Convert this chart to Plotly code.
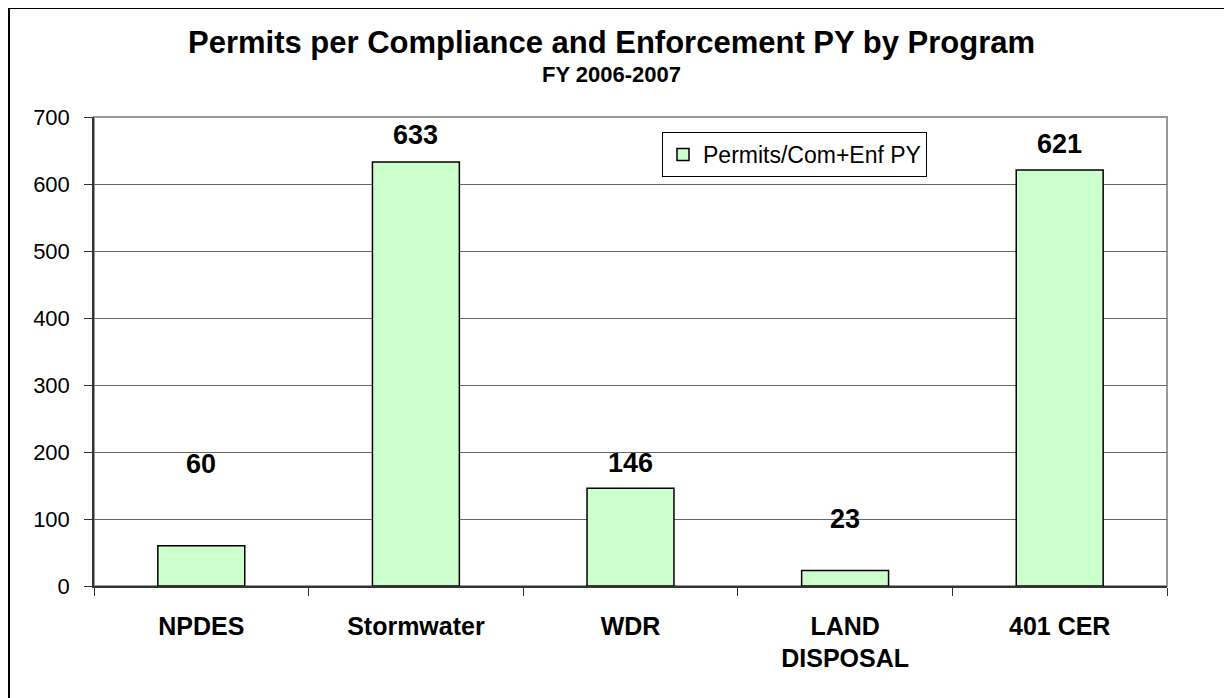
import plotly.graph_objects as go

categories = ["NPDES", "Stormwater", "WDR", "LAND<br>DISPOSAL", "401 CER"]
values = [60, 633, 146, 23, 621]
series_name = "Permits/Com+Enf PY"
y_ticks = [0, 100, 200, 300, 400, 500, 600, 700]
title_text = "Permits per Compliance and Enforcement PY by Program"
subtitle_text = "FY 2006-2007"

FONT = "Liberation Sans, Arial, sans-serif"
W, H = 1224, 690           # page body has an 8px margin
L, R, T, B = 86, 65, 109, 112
PW, PH = W - L - R, H - T - B
# pixel gap above each bar for its value label, as placed in the original
label_gaps = [65, 10, 8, 35, 9]

def px_x(x):
    return (x - L) / PW

def px_y(y):
    return (H - B - y) / PH

fig = go.Figure()
fig.add_trace(go.Bar(
    x=categories, y=values, name=series_name,
    marker=dict(color="#CCFFCC", line=dict(color="black", width=1.5)),
    width=0.405,
))

annotations = [
    dict(text="<b>%s</b>" % title_text, x=px_x(603), y=px_y(34),
         xref="paper", yref="paper", xanchor="center", yanchor="middle",
         showarrow=False, font=dict(size=31, family=FONT, color="black")),
    dict(text="<b>%s</b>" % subtitle_text, x=px_x(603), y=px_y(67),
         xref="paper", yref="paper", xanchor="center", yanchor="middle",
         showarrow=False, font=dict(size=22, family=FONT, color="black")),
]
for c, v, g in zip(categories, values, label_gaps):
    annotations.append(dict(
        text="<b>%d</b>" % v, x=c, y=v, xref="x", yref="y",
        xanchor="center", yanchor="bottom", yshift=g, showarrow=False,
        font=dict(size=27, family=FONT, color="black"),
    ))

fig.update_layout(
    width=W, height=H,
    margin=dict(l=L, r=R, t=T, b=B),
    paper_bgcolor="white", plot_bgcolor="white",
    font=dict(family=FONT, color="black"),
    showlegend=True,
    legend=dict(
        x=px_x(654), y=px_y(124), xanchor="left", yanchor="top",
        bgcolor="white", bordercolor="black", borderwidth=1,
        font=dict(size=23, family=FONT, color="black"),
        itemwidth=30,
    ),
    annotations=annotations,
)

fig.update_xaxes(
    showline=True, linecolor="#333333", linewidth=1.5,
    ticks="outside", tickson="boundaries", ticklen=8, tickcolor="#333333",
    tickfont=dict(size=25, family=FONT, color="black"),
    tickprefix="<b>", ticksuffix="</b>",
    ticklabelstandoff=17,
    showgrid=False,
)
fig.update_yaxes(
    range=[0, 700], tickvals=y_ticks,
    showline=True, linecolor="#333333", linewidth=1.5,
    ticks="outside", ticklen=8, tickcolor="#333333",
    tickfont=dict(size=22, family=FONT, color="black"),
    ticklabelstandoff=10,
    showgrid=True, gridcolor="#666666", gridwidth=1,
    zeroline=False,
)
# plot-area border (grey) and outer chart frame
fig.add_shape(type="rect", xref="paper", yref="paper", x0=0, y0=0, x1=1, y1=1,
              line=dict(color="#999999", width=2), layer="below")
fig.add_shape(type="rect", xref="paper", yref="paper",
              x0=px_x(1), y0=px_y(720), x1=px_x(1260), y1=px_y(0),
              line=dict(color="black", width=2))
fig.write_html("out.html")
